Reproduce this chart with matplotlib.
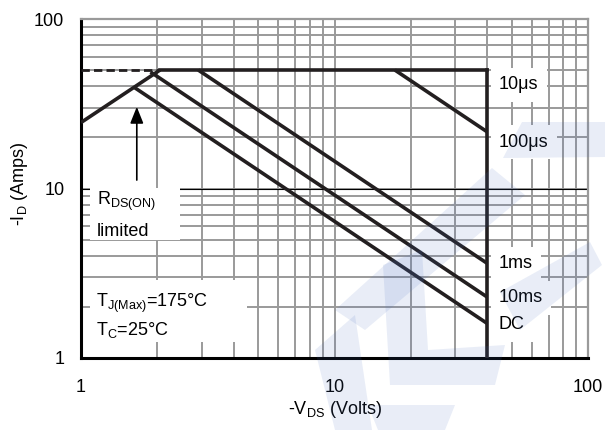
import numpy as np
import matplotlib.pyplot as plt
from matplotlib.patches import Polygon, Rectangle

plt.rcParams['font.family'] = ['Liberation Sans', 'DejaVu Sans']
plt.rcParams['mathtext.fontset'] = 'custom'
plt.rcParams['mathtext.rm'] = 'Liberation Sans'
plt.rcParams['mathtext.it'] = 'Liberation Sans'

# safe operating area, -VDS in volts, -ID in amps
vds_max = 40
id_max = 50

rds_v = [1.0, 2.05]          # RDS(on) limit
rds_i = [24.5, 50]

dash_v = [1.0, 2.05]         # dashed package limit
dash_i = [50, 50]

top_v = [2.05, 40]           # 10us (flat) limit
top_i = [50, 50]

us100_v = [17.3, 40]
us100_i = [50, 21.6]

ms1_v = [2.9, 40]
ms1_i = [50, 3.62]

ms10_v = [1.88, 40]
ms10_i = [48.7, 2.29]

dc_v = [1.63, 40]
dc_i = [39.3, 1.6]

curve_labels = ['10\u03bcs', '100\u03bcs', '1ms', '10ms', 'DC']
label_i = [40.8, 18.8, 3.59, 2.26, 1.57]

ticks = [1, 10, 100]
tick_labels = ['1', '10', '100']

fs = 13

W, H = 605, 430
def fx(x):
    return x / W
def fy(y):
    return 1 - y / H

fig = plt.figure(figsize=(6.05, 4.30), dpi=100)
ax = fig.add_axes([fx(81), fy(358), 507/W, 339/H])
ax.set_xscale('log')
ax.set_yscale('log')
ax.set_xlim(1, 100)
ax.set_ylim(1, 100)

grey = '#9a9a9a'
ax.grid(True, which='both', color=grey, linewidth=1.4, zorder=0)
ax.set_axisbelow(True)
ax.axhline(10, color='black', linewidth=0.8, zorder=1)

for s in ['top', 'right']:
    ax.spines[s].set_color(grey)
    ax.spines[s].set_linewidth(1.6)
for s in ['left', 'bottom']:
    ax.spines[s].set_color('black')
    ax.spines[s].set_linewidth(2.2)

ax.tick_params(which='both', length=0, labelsize=fs)
ax.tick_params(axis='x', pad=15)
ax.tick_params(axis='y', pad=12)
ax.set_xticks(ticks)
ax.set_xticklabels(tick_labels)
ax.set_yticks(ticks)
ax.set_yticklabels(tick_labels)
ax.minorticks_on()
ax.tick_params(which='minor', labelleft=False, labelbottom=False)

lc = '#231f20'
lw = 2.6
ax.plot(rds_v, rds_i, color=lc, lw=lw, solid_capstyle='butt', zorder=3)
ax.plot(dash_v, dash_i, color=lc, lw=2.0, ls=(0, (3, 1.5)), zorder=3)
ax.plot(top_v, top_i, color=lc, lw=lw, zorder=3)
ax.plot([vds_max, vds_max], [id_max, 1], color=lc, lw=lw, zorder=3)
for v, i in [(us100_v, us100_i), (ms1_v, ms1_i), (ms10_v, ms10_i), (dc_v, dc_i)]:
    ax.plot(v, i, color=lc, lw=lw, solid_capstyle='butt', zorder=3)

box = dict(facecolor='white', edgecolor='none', pad=6)
for lab, y in zip(curve_labels, label_i):
    ax.text(44.5, y, lab, fontsize=fs, va='center', ha='left', bbox=box, zorder=4)

# white panels behind the notes
for x0, y0, x1, y1 in [(90, 188, 180, 240), (90, 280, 247, 342)]:
    ax.add_patch(Rectangle((fx(x0), fy(y1)), (x1 - x0)/W, (y1 - y0)/H, transform=fig.transFigure,
                           facecolor='white', edgecolor='none', zorder=2))

fig.text(fx(97), fy(205), 'R$_{\\mathregular{DS(ON)}}$', fontsize=fs, va='baseline', zorder=5)
fig.text(fx(97), fy(236), 'limited', fontsize=fs, va='baseline', zorder=5)
fig.text(fx(96), fy(307), 'T$_{\\mathregular{J(Max)}}$=175\u00b0C', fontsize=fs, va='baseline', zorder=5)
fig.text(fx(96), fy(335), 'T$_{\\mathregular{C}}$=25\u00b0C', fontsize=fs, va='baseline', zorder=5)

ax.annotate('', xy=(1.66, 31.5), xytext=(1.66, 10.8),
            arrowprops=dict(arrowstyle='-|>,head_length=1.0,head_width=0.4', color='black', lw=1.2),
            zorder=5)

fig.text(fx(335), fy(410), '-V$_{\\mathregular{DS}}$ (Volts)', fontsize=fs, ha='center', va='center')
fig.text(fx(19), fy(184), '-I$_{\\mathregular{D}}$ (Amps)', fontsize=fs, ha='center', va='center',
         rotation=90)

# faint logo in the background
def px(pts):
    return [(fx(x), fy(y)) for x, y in pts]

logo = [
    [(503, 158), (522, 122), (605, 122), (605, 157)],
    [(492, 168), (525, 195), (365, 330), (335, 310)],
    [(315, 350), (355, 315), (372, 430), (335, 430)],
    [(383, 265), (422, 250), (428, 350), (505, 345), (495, 385), (390, 385)],
    [(500, 292), (590, 242), (602, 265), (520, 330)],
    [(368, 405), (455, 405), (445, 430), (378, 430)],
]
for p in logo:
    fig.add_artist(Polygon(px(p), closed=True, transform=fig.transFigure,
                           facecolor='#4a6fc0', edgecolor='none', alpha=0.12, zorder=10))

plt.savefig('out.png', dpi=100)
